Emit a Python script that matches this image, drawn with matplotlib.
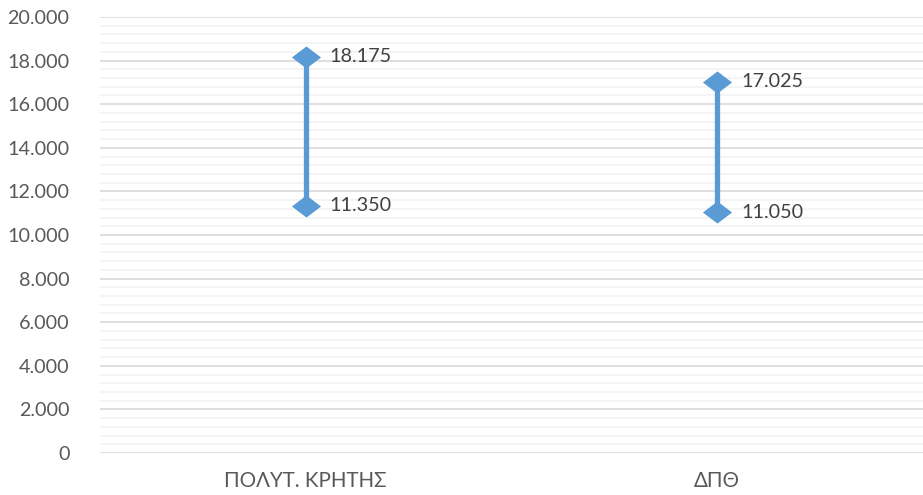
import matplotlib.pyplot as plt
from matplotlib.path import Path
from matplotlib.ticker import MultipleLocator, FuncFormatter

categories = ['ΠΟΛΥΤ. ΚΡΗΤΗΣ', 'ΔΠΘ']
low = [11350, 11050]
high = [18175, 17025]

plt.rcParams['font.family'] = ['Lato', 'DejaVu Sans']

fig = plt.figure(figsize=(9.23, 4.95), dpi=100)
ax = fig.add_axes([0.1083, 0.0848, 0.8917, 0.8809])

# wide diamond, like Excel's
diamond = Path([(-1.32, 0), (0, 1), (1.32, 0), (0, -1), (-1.32, 0)],
               [Path.MOVETO, Path.LINETO, Path.LINETO, Path.LINETO, Path.CLOSEPOLY])

x = list(range(len(categories)))
for i in x:
    ax.plot([i, i], [low[i], high[i]], color='#5B9BD5', lw=3.8, zorder=3,
            marker=diamond, markersize=21, markeredgewidth=0, solid_capstyle='butt')
    for v in (low[i], high[i]):
        ax.annotate(f'{v:,.0f}'.replace(',', '.'), (i, v), xytext=(17, 0),
                    textcoords='offset points', va='center', ha='left',
                    fontsize=14.2, color='#404040', zorder=4)

ax.set_xlim(-0.5, len(categories) - 0.5)
ax.set_ylim(0, 20000)
ax.yaxis.set_major_locator(MultipleLocator(2000))
ax.yaxis.set_minor_locator(MultipleLocator(400))
ax.yaxis.set_major_formatter(FuncFormatter(lambda v, p: f'{v:,.0f}'.replace(',', '.')))
ax.grid(axis='y', which='major', color='#d9d9d9', lw=1.2, zorder=0)
ax.grid(axis='y', which='minor', color='#f2f2f2', lw=1.2, zorder=0)
ax.set_xticks(x)
ax.set_xticklabels(categories, fontsize=14.8)
ax.tick_params(axis='both', which='both', length=0, colors='#595959')
ax.tick_params(axis='y', labelsize=14.2, pad=22)
ax.tick_params(axis='x', pad=13)
for s in ax.spines.values():
    s.set_visible(False)

fig.savefig('out.png', dpi=100)
